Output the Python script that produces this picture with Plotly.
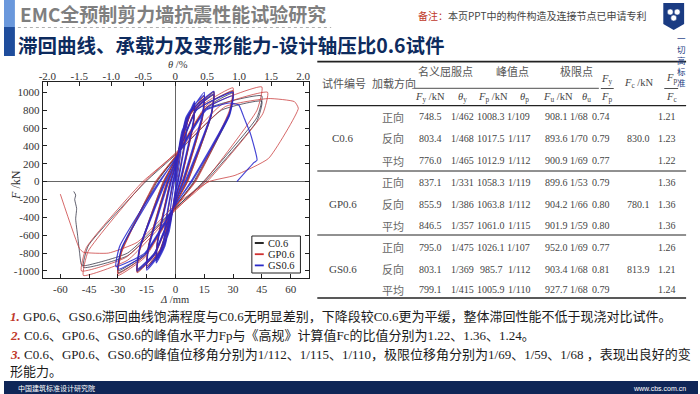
import plotly.graph_objects as go

W, H = 700, 394
def px(x): return x / W
def py(y): return 1 - y / H

# ---------------- hysteresis data (displacement mm, force kN) ----------------
c06_d = [0, 2.5, 5, 4.7, 1.2, 0, -2.8, -5, -4.7, -1.2, 0, 2.8,
         10, 9.3, 2.5, 0, -5.5, -10, -9.3, -2.5, 0, 5.5,
         10, 9.3, 2.7, 0, -5.5, -10, -9.3, -2.7, 0, 5.5,
         15, 14, 4, 0, -8, -15, -14, -4, 0, 8,
         15, 14, 4.3, 0, -8, -15, -14, -4.3, 0, 8,
         20, 18.6, 5.8, 0, -11, -20, -18.6, -5.8, 0, 11,
         20, 18.6, 6.2, 0, -11, -20, -18.6, -6.2, 0, 11,
         30, 28, 9.5, 0, -16, -30, -28, -9.5, 0, 16,
         30, 28, 10, 0, -16, -30, -28, -10, 0, 16,
         45, 42.5, 14.5, 0, -25, -48, -45.5, -15.5, 0, 24,
         45, 42.5, 15.5, 0, -25, -47, -49, -50, -51, -52, -51.5, -52.5, -52, -53]
c06_f = [0, 350, 600, 450, 0, -110, -480, -590, -440, 0, 110, 480,
         880, 660, 0, -180, -700, -890, -670, 0, 180, 700,
         850, 640, 0, -175, -680, -860, -650, 0, 175, 680,
         960, 720, 0, -220, -780, -970, -730, 0, 220, 780,
         930, 700, 0, -215, -760, -950, -710, 0, 215, 760,
         1000, 750, 0, -250, -820, -1010, -760, 0, 250, 820,
         970, 730, 0, -240, -800, -990, -740, 0, 240, 800,
         1010, 760, 0, -280, -830, -1020, -770, 0, 280, 830,
         990, 740, 0, -270, -810, -1000, -750, 0, 270, 810,
         960, 720, 0, -300, -830, -960, -720, 0, 300, 800,
         900, 680, 0, -290, -800, -940, -930, -790, -600, -420, -300, -200, -150, -110]

gp06_d = [0, 2.5, 5, 4.7, 1.1, 0, -2.8, -5, -4.7, -1.1, 0, 2.8,
          10, 9.3, 2.6, 0, -5.5, -10, -9.3, -2.6, 0, 5.5,
          10, 9.3, 2.8, 0, -5.5, -10, -9.3, -2.8, 0, 5.5,
          15, 14, 4.2, 0, -8, -15, -14, -4.2, 0, 8,
          15, 14, 4.5, 0, -8, -15, -14, -4.5, 0, 8,
          20, 18.6, 6, 0, -11, -20, -18.6, -6, 0, 11,
          20, 18.6, 6.4, 0, -11, -20, -18.6, -6.4, 0, 11,
          30, 28, 10, 0, -16, -30, -28, -10, 0, 16,
          30, 28, 10.5, 0, -16, -30, -28, -10.5, 0, 16,
          45, 42.5, 15, 0, -25, -48, -45.5, -16, 0, 24,
          48, 45.5, 16.5, 0, -26, -49, -46.5, -17, 0, 26,
          48.5, 62, 64, 48.5, 31, 17.5, 0, -20, -35, -48, -50, -60]
gp06_f = [0, 330, 560, 420, 0, -100, -450, -560, -420, 0, 100, 450,
          860, 650, 0, -180, -690, -870, -660, 0, 180, 690,
          830, 630, 0, -175, -670, -840, -640, 0, 175, 670,
          960, 720, 0, -230, -780, -970, -730, 0, 230, 780,
          930, 700, 0, -220, -760, -950, -710, 0, 220, 760,
          1010, 760, 0, -260, -830, -1020, -770, 0, 260, 830,
          980, 740, 0, -250, -810, -1000, -750, 0, 250, 810,
          1050, 790, 0, -290, -850, -1050, -790, 0, 290, 850,
          1020, 770, 0, -280, -830, -1030, -780, 0, 280, 830,
          1060, 800, 0, -320, -880, -1050, -780, 0, 320, 860,
          1000, 760, 0, -310, -850, -1000, -740, 0, 310, 840,
          930, 895, 820, 260, 70, 0, -260, -680, -800, -790, -750, -140]

gs06_d = [0, 1.5, 3, 2.8, 0.6, 0, -1.6, -3, -2.8, -0.6, 0, 1.6,
          6, 5.6, 1.3, 0, -3.3, -6, -5.6, -1.3, 0, 3.3,
          6, 5.6, 1.4, 0, -3.3, -6, -5.6, -1.4, 0, 3.3,
          10, 9.3, 2.2, 0, -5.5, -10, -9.3, -2.2, 0, 5.5,
          10, 9.3, 2.4, 0, -5.5, -10, -9.3, -2.4, 0, 5.5,
          15, 14, 3.5, 0, -8, -15, -14, -3.5, 0, 8,
          15, 14, 3.8, 0, -8, -15, -14, -3.8, 0, 8,
          20, 18.6, 5, 0, -11, -20, -18.6, -5, 0, 11,
          20, 18.6, 5.4, 0, -11, -20, -18.6, -5.4, 0, 11,
          30, 28, 8, 0, -16, -30, -28, -8, 0, 16,
          30, 28, 8.5, 0, -16, -31, -29, -8.5, 0, 16,
          28, 31, 33, 36, 39, 42.5, 41, 32]
gs06_f = [0, 260, 450, 340, 0, -80, -330, -450, -340, 0, 80, 330,
          700, 520, 0, -130, -560, -710, -530, 0, 130, 560,
          680, 500, 0, -125, -545, -690, -515, 0, 125, 545,
          900, 680, 0, -170, -720, -910, -690, 0, 170, 720,
          870, 660, 0, -165, -700, -880, -670, 0, 165, 700,
          1000, 750, 0, -200, -800, -990, -750, 0, 200, 800,
          970, 730, 0, -195, -780, -970, -730, 0, 195, 780,
          1010, 760, 0, -230, -820, -1000, -750, 0, 230, 820,
          980, 740, 0, -220, -800, -980, -730, 0, 220, 800,
          1000, 760, 0, -260, -820, -980, -740, 0, 260, 820,
          960, 730, 0, -250, -800, -950, -720, 0, 250, 800,
          880, 870, 858, 700, 540, 240, 215, 0]

series_names = ["C0.6", "GP0.6", "GS0.6"]
series_colors = ["rgba(30,30,50,0.7)", "rgba(200,55,55,0.75)", "rgba(35,35,205,0.85)"]
series_widths = [1.0, 1.0, 1.2]

disp_ticks = [-60, -45, -30, -15, 0, 15, 30, 45, 60]
disp_labels = ["-60", "-45", "-30", "-15", "0", "15", "30", "45", "60"]
theta_ticks = [-2.0, -1.5, -1.0, -0.5, 0, 0.5, 1.0, 1.5, 2.0]
theta_labels = ["-2.0", "-1.5", "-1.0", "-0.5", "0", "0.5", "1.0", "1.5", "2.0"]
force_ticks = [-1000, -800, -600, -400, -200, 0, 200, 400, 600, 800, 1000]
force_labels = ["-1000", "-800", "-600", "-400", "-200", "0", "200", "400", "600", "800", "1000"]

# ---------------- table data ----------------
specimens = ["C0.6", "GP0.6", "GS0.6"]
directions = ["正向", "反向", "平均"]
Fy = [[748.5, 803.4, 776.0], [837.1, 855.9, 846.5], [795.0, 803.1, 799.1]]
theta_y = [[462, 468, 465], [331, 386, 357], [475, 369, 415]]
Fp = [[1008.3, 1017.5, 1012.9], [1058.3, 1063.8, 1061.0], [1026.1, 985.7, 1005.9]]
theta_p = [[109, 117, 112], [119, 112, 115], [107, 112, 110]]
Fu = [[908.1, 893.6, 900.9], [899.6, 904.2, 901.9], [952.0, 903.4, 927.7]]
theta_u = [[68, 70, 69], [53, 66, 59], [69, 68, 68]]
Fy_Fp = [[0.74, 0.79, 0.77], [0.79, 0.80, 0.80], [0.77, 0.81, 0.79]]
Fc = [830.0, 780.1, 813.9]
Fp_Fc = [[1.21, 1.23, 1.22], [1.36, 1.36, 1.36], [1.26, 1.21, 1.24]]

SERIF = "Liberation Serif, Noto Sans CJK SC"
CJK = "Noto Sans CJK SC"

fig = go.Figure()
for name, dd, ff, col, lw in zip(series_names, [c06_d, gp06_d, gs06_d], [c06_f, gp06_f, gs06_f],
                                 series_colors, series_widths):
    fig.add_trace(go.Scatter(x=dd, y=ff, mode="lines", name=name,
                             line=dict(color=col, width=lw, shape="spline", smoothing=0.45),
                             hoverinfo="skip"))
# invisible trace to activate the top (drift ratio) axis
fig.add_trace(go.Scatter(x=[theta_ticks[0], theta_ticks[-1]], y=[0, 0], xaxis="x2", mode="lines",
                         line=dict(width=0, color="rgba(0,0,0,0)"), hoverinfo="skip", showlegend=False))

tickfont = dict(family="Liberation Serif", size=11, color="#333")
fig.update_layout(
    width=W, height=H, margin=dict(l=0, r=0, t=0, b=0),
    paper_bgcolor="white", plot_bgcolor="white", showlegend=False,
    xaxis=dict(domain=[px(39), px(307.5)], range=[-69.2, 69.5], tickvals=disp_ticks, ticktext=disp_labels,
               ticks="inside", ticklen=4, tickcolor="#222", showline=True, linecolor="#222", linewidth=1,
               zeroline=True, zerolinecolor="#666", zerolinewidth=1, showgrid=False, tickfont=tickfont,
               anchor="y"),
    xaxis2=dict(overlaying="x", side="top", range=[-2.073, 2.09], tickvals=theta_ticks, ticktext=theta_labels,
                ticks="inside", ticklen=4, tickcolor="#222", showline=True, linecolor="#222", linewidth=1,
                zeroline=False, showgrid=False, tickfont=tickfont, anchor="y", ticklabelstandoff=-3),
    yaxis=dict(domain=[py(278.3), py(82)], range=[-1082, 1115], tickvals=force_ticks, ticktext=force_labels,
               ticks="inside", ticklen=4, tickcolor="#222", showline=True, linecolor="#222", linewidth=1,
               mirror="ticks", zeroline=True, zerolinecolor="#666", zerolinewidth=1, showgrid=False,
               tickfont=tickfont),
)

shapes = []
ann = []

def txt(x, y, s, size=11, color="#333", family=SERIF, xanchor="center", **kw):
    ann.append(dict(x=px(x), y=py(y), xref="paper", yref="paper", text=s, showarrow=False,
                    font=dict(size=size, color=color, family=family), xanchor=xanchor,
                    yanchor="middle", **kw))

def hline(x0, x1, y, w=1, color="#222", dash=None):
    ln = dict(color=color, width=w)
    if dash:
        ln["dash"] = dash
    shapes.append(dict(type="line", xref="paper", yref="paper", x0=px(x0), x1=px(x1),
                       y0=py(y), y1=py(y), line=ln))

def rect(x0, x1, y0, y1, fill, lw=0, lc=None):
    shapes.append(dict(type="rect", xref="paper", yref="paper", x0=px(x0), x1=px(x1),
                       y0=py(y1), y1=py(y0), fillcolor=fill,
                       line=dict(width=lw, color=lc or fill)))

# ---------------- header ----------------
rect(0, 11, 0, 27, "#6a98dc")
rect(0, 11, 27, 56, "#1f4d9c")
txt(14, 14, "<b>EMC全预制剪力墙抗震性能试验研究</b>", 19, "#7f7f7f", CJK, "left")
hline(14, 330, 27.5, 1, "#b0b0b0", "dot")
txt(12, 45, "<b>滞回曲线、承载力及变形能力-设计轴压比0.6试件</b>", 19.5, "#0d2b5e", CJK, "left")
txt(416, 15, "<span style='color:#c0392b'>备注：</span>本页PPT中的构件构造及连接节点已申请专利", 10, "#444", CJK, "left")
shapes.append(dict(type="path", xref="paper", yref="paper",
                   path=f"M {px(665)} {py(3)} L {px(686)} {py(3)} L {px(686)} {py(24)} L {px(675.5)} {py(30)} L {px(665)} {py(24)} Z",
                   fillcolor="#1a3b82", line=dict(width=0)))
for cx, cy in [(672, 12), (679, 12), (675.5, 18)]:
    shapes.append(dict(type="circle", xref="paper", yref="paper", x0=px(cx - 3), x1=px(cx + 3),
                       y0=py(cy + 3), y1=py(cy - 3), fillcolor="white", line=dict(width=0.5, color="#1a3b82")))
txt(683, 60, "一<br>切<br>高<br>标<br>准", 8.5, "#1a3b82", CJK)

# ---------------- chart labels & legend ----------------
txt(12, 185, "<i>F</i> /kN", 12, "#333", SERIF, textangle=-90)
txt(176, 64, "<i>θ</i> /%", 10.5, "#333", SERIF)
txt(172, 299, "<i>Δ</i> /mm", 10.5, "#333", SERIF)

rect(250, 299, 236, 273, "white", 1, "#222")
for i, (nm, col) in enumerate(zip(series_names, ["#111111", "#d03030", "#2a2ac8"])):
    yy = 243 + i * 11.2
    hline(253, 262, yy, 1.8, col)
    txt(264, yy, nm, 10.5, "#222", SERIF, "left")

# ---------------- table ----------------
hline(316, 688, 61.7, 1.8)
hline(414, 600, 88.3, 0.8)
hline(316, 688, 105.7, 1.2)
hline(316, 688, 171, 1.0)
hline(316, 688, 235, 1.0)
hline(316, 688, 298, 1.5)

tc = "#444"
HF = 10.5
txt(343, 83, "试件编号", 11, "#555", CJK)
txt(393, 83, "加载方向", 11, "#555", CJK)
txt(445, 71, "名义屈服点", 11, "#555", CJK)
txt(513, 71, "峰值点", 11, "#555", CJK)
txt(577, 71, "极限点", 11, "#555", CJK)
for x, s in [(430, "<i>F</i><sub>y</sub> /kN"), (462, "<i>θ</i><sub>y</sub>"), (493, "<i>F</i><sub>p</sub> /kN"),
             (525, "<i>θ</i><sub>p</sub>"), (559, "<i>F</i><sub>u</sub> /kN"), (588, "<i>θ</i><sub>u</sub>")]:
    txt(x, 98, s, HF, tc)
txt(608, 79, "<i>F</i><sub>y</sub>", HF, tc)
hline(602, 615, 88.5, 0.8)
txt(608, 97.5, "<i>F</i><sub>p</sub>", HF, tc)
txt(640, 84, "<i>F</i><sub>c</sub> /kN", HF, tc)
txt(673, 78, "<i>F</i><sub>p</sub>", HF, tc)
hline(666, 680, 88.5, 0.8)
txt(673, 97.5, "<i>F</i><sub>c</sub>", HF, tc)

row_y = [[116.7, 138.3, 160.7], [182.3, 204.0, 225.5], [247.3, 269.0, 289.5]]
col_x = [430, 462.5, 491.5, 519, 557, 580, 602, 640, 669]
for i, sp in enumerate(specimens):
    txt(341.5, row_y[i][1], sp, 11, tc)
    for j, dr in enumerate(directions):
        y = row_y[i][j]
        txt(392, y, dr, 11, "#666", CJK)
        vals = [f"{Fy[i][j]:.1f}", f"1/{theta_y[i][j]}", f"{Fp[i][j]:.1f}", f"1/{theta_p[i][j]}",
                f"{Fu[i][j]:.1f}", f"1/{theta_u[i][j]}", f"{Fy_Fp[i][j]:.2f}",
                f"{Fc[i]:.1f}" if j == 1 else "", f"{Fp_Fc[i][j]:.2f}"]
        for x, v in zip(col_x, vals):
            if v:
                txt(x, y, v, 10, tc)

# ---------------- conclusions ----------------
RED = "#c0392b"
def num(n):
    return f"<b><i><span style='color:{RED}'>{n}.</span></i></b> "
lines = [
    (316, num(1) + "GP0.6、GS0.6滞回曲线饱满程度与C0.6无明显差别，下降段较C0.6更为平缓，整体滞回性能不低于现浇对比试件。"),
    (335, num(2) + "C0.6、GP0.6、GS0.6的峰值水平力Fp与《高规》计算值Fc的比值分别为1.22、1.36、1.24。"),
    (354, num(3) + "C0.6、GP0.6、GS0.6的峰值位移角分别为1/112、1/115、1/110，极限位移角分别为1/69、1/59、1/68 ，表现出良好的变"),
    (371, "形能力。"),
]
for y, s in lines:
    txt(4, y, s, 13, "#1a1a1a", SERIF, "left")

# ---------------- footer ----------------
rect(0, 700, 381, 394, "#0f2657")
txt(12, 388, "中国建筑标准设计研究院", 7, "white", CJK, "left")
txt(690, 388, "www.cbs.com.cn", 7, "white", "Liberation Sans", "right")

fig.update_layout(shapes=shapes, annotations=ann)
fig.write_html("out.html", config={"displayModeBar": False},
               post_script="document.body.style.margin='0px';document.body.style.overflow='hidden';")
